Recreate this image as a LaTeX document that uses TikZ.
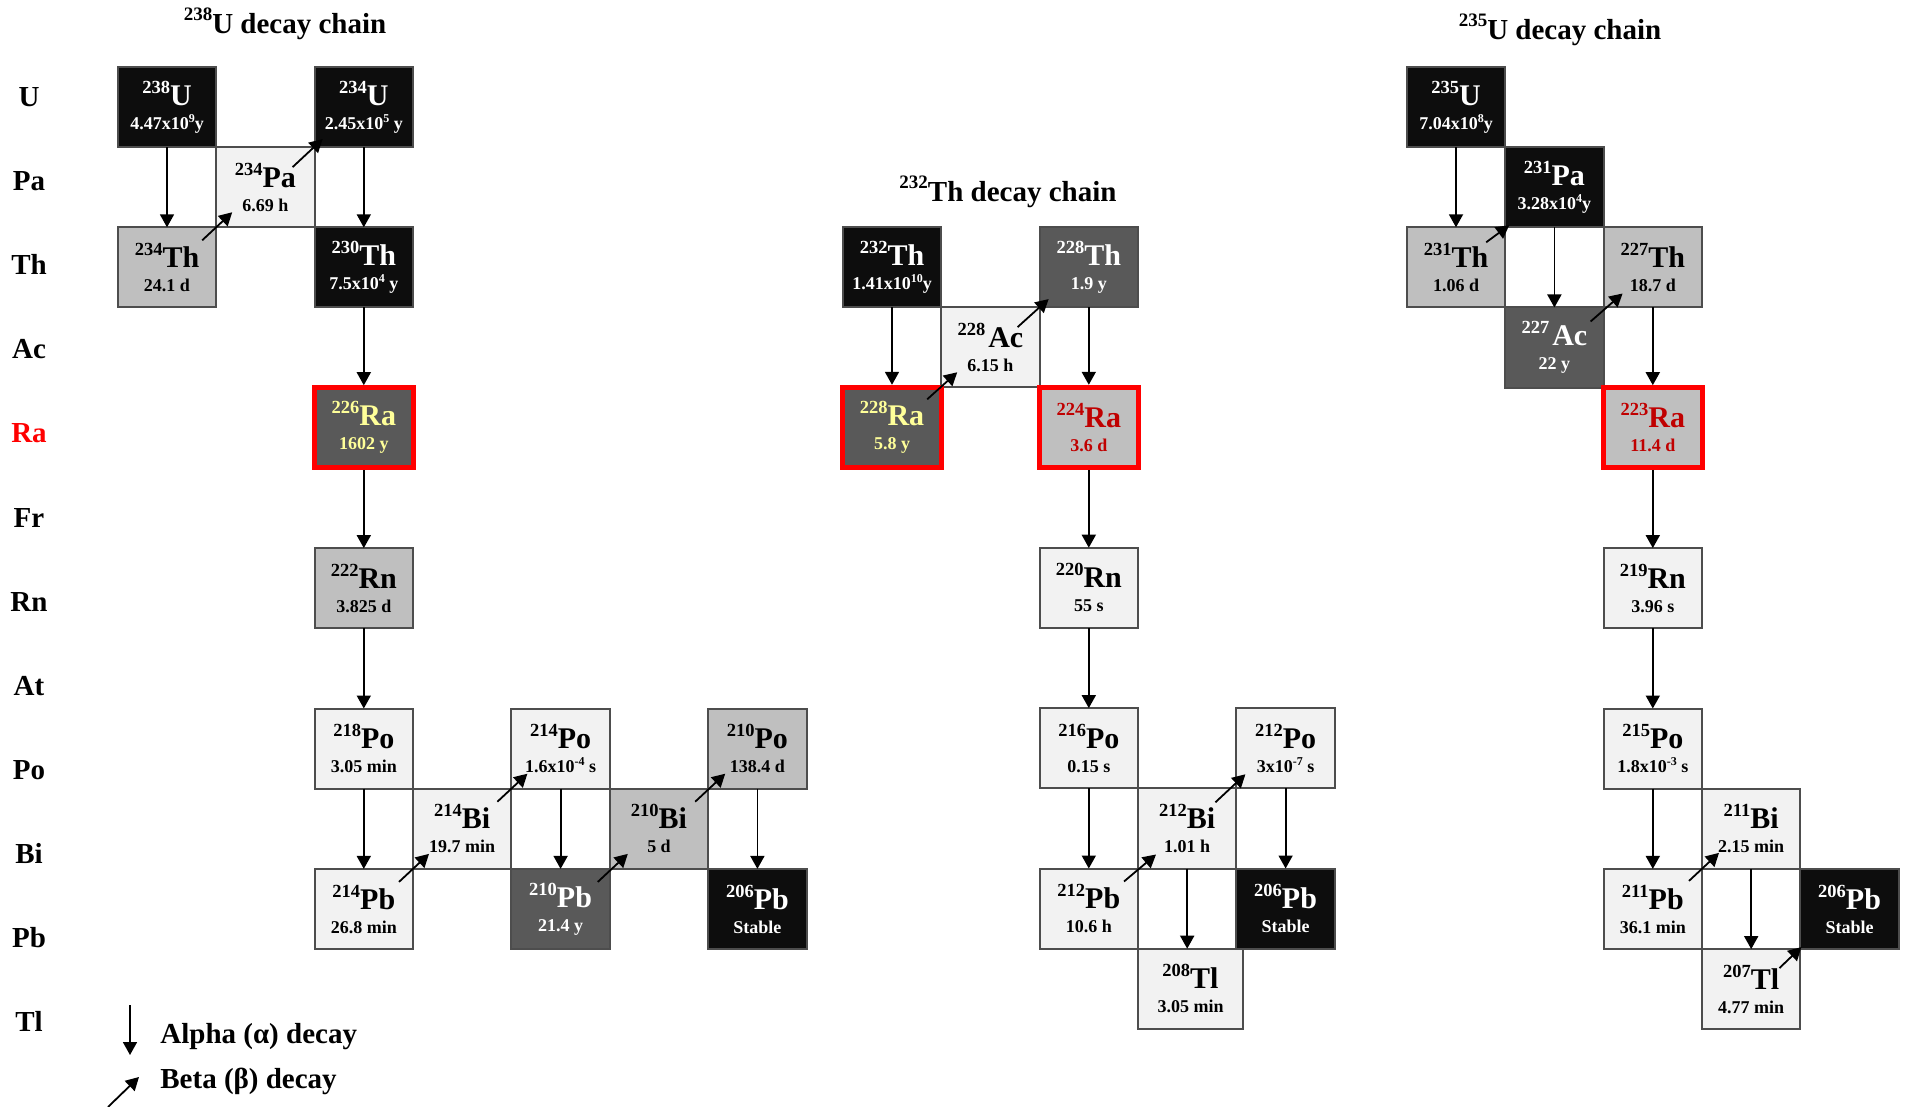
\documentclass[tikz,border=0pt]{standalone}
\usepackage{fontspec}
\setmainfont{Liberation Serif}
\usepackage{tikz}
\usetikzlibrary{arrows.meta, positioning, calc}

\definecolor{nucblack}{HTML}{0D0D0D}
\definecolor{nucdark}{HTML}{595959}
\definecolor{nucmid}{HTML}{BFBFBF}
\definecolor{nuclight}{HTML}{F2F2F2}
\definecolor{edgegray}{HTML}{4D4D4D}
\definecolor{rayellow}{HTML}{FFFF99}
\definecolor{rared}{HTML}{C00000}

% mass number, symbol, half-life
\newcommand{\iso}[3]{\raisebox{6pt}{\fontsize{9.25}{9}\selectfont #1}#2\\{\fontsize{9}{12}\selectfont #3}}
\newcommand{\ex}[1]{\raisebox{3.5pt}{\fontsize{6}{6}\selectfont #1}}
\newcommand{\mass}[1]{\raisebox{6.5pt}{\fontsize{9.5}{9.5}\selectfont #1}}

\begin{document}
\begin{tikzpicture}[
    x=0.5pt, y=-0.5pt,
    nuc/.style={draw=edgegray, line width=1pt, minimum width=49.2pt, minimum height=40.1pt, inner sep=0pt, outer sep=0pt, align=center, font=\fontsize{15}{12}\selectfont\bfseries},
    blackbox/.style={nuc, fill=nucblack, text=white},
    darkbox/.style={nuc, fill=nucdark, text=white},
    midbox/.style={nuc, fill=nucmid},
    lightbox/.style={nuc, fill=nuclight},
    radium/.style={draw=red, line width=2.5pt},
    rowlab/.style={anchor=base, inner sep=0pt, font=\fontsize{14.5}{15}\selectfont\bfseries},
    chaintitle/.style={anchor=base, inner sep=0pt, font=\fontsize{14.5}{15}\selectfont\bfseries},
    legend/.style={anchor=base west, inner sep=0pt, font=\fontsize{14.5}{15}\selectfont\bfseries},
    alphaarr/.style={line width=0.9pt, -{Triangle[length=6.5pt, width=7pt]}},
    betaarr/.style={line width=0.9pt, -{Triangle[length=6.5pt, width=7pt]}}
]
\useasboundingbox (0,0) rectangle (1908,1107);

% Element rows
\foreach \el/\col [count=\i from 0] in {U/black, Pa/black, Th/black, Ac/black, Ra/red, Fr/black, Rn/black, At/black, Po/black, Bi/black, Pb/black, Tl/black}
    \node[rowlab, text=\col] (row\el) at (29, {107+84*\i}) {\el};

% Titles
\node[chaintitle] (title238) at (285,34) {\mass{238}U decay chain};
\node[chaintitle] (title232) at (1008,202) {\mass{232}Th decay chain};
\node[chaintitle] (title235) at (1560,40) {\mass{235}U decay chain};

% 238U chain
\node[blackbox] (u238) at (167,107) {\iso{238}{U}{4.47x10\ex{9}y}};
\node[lightbox, below right=0pt and 0pt of u238] (pa234) {\iso{234}{Pa}{6.69 h}};
\node[midbox, below left=0pt and 0pt of pa234] (th234) {\iso{234}{Th}{24.1 d}};
\node[blackbox, above right=0pt and 0pt of pa234] (u234) {\iso{234}{U}{2.45x10\ex{5} y}};
\node[blackbox, below right=0pt and 0pt of pa234] (th230) {\iso{230}{Th}{7.5x10\ex{4} y}};
\node[darkbox, radium, text=rayellow, below=40.1pt of th230] (ra226) {\iso{226}{Ra}{1602 y}};
\node[midbox, below=40.1pt of ra226] (rn222) {\iso{222}{Rn}{3.825 d}};
\node[lightbox, below=40.1pt of rn222] (po218) {\iso{218}{Po}{3.05 min}};
\node[lightbox, below right=0pt and 0pt of po218] (bi214) {\iso{214}{Bi}{19.7 min}};
\node[lightbox, below left=0pt and 0pt of bi214] (pb214) {\iso{214}{Pb}{26.8 min}};
\node[lightbox, above right=0pt and 0pt of bi214] (po214) {\iso{214}{Po}{1.6x10\ex{-4} s}};
\node[darkbox, below right=0pt and 0pt of bi214] (pb210) {\iso{210}{Pb}{21.4 y}};
\node[midbox, above right=0pt and 0pt of pb210] (bi210) {\iso{210}{Bi}{5 d}};
\node[midbox, above right=0pt and 0pt of bi210] (po210) {\iso{210}{Po}{138.4 d}};
\node[blackbox, below right=0pt and 0pt of bi210] (pb206a) {\iso{206}{Pb}{Stable}};

% 232Th chain
\node[blackbox] (th232) at (892,267) {\iso{232}{Th}{1.41x10\ex{10}y}};
\node[lightbox, below right=0pt and 0pt of th232] (ac228) {\iso{228\,}{Ac}{6.15 h}};
\node[darkbox, radium, text=rayellow, below left=0pt and 0pt of ac228] (ra228) {\iso{228}{Ra}{5.8 y}};
\node[darkbox, above right=0pt and 0pt of ac228] (th228) {\iso{228}{Th}{1.9 y}};
\node[midbox, radium, text=rared, below right=0pt and 0pt of ac228] (ra224) {\iso{224}{Ra}{3.6 d}};
\node[lightbox, below=40.1pt of ra224] (rn220) {\iso{220}{Rn}{55 s}};
\node[lightbox, below=40.1pt of rn220] (po216) {\iso{216}{Po}{0.15 s}};
\node[lightbox, below right=0pt and 0pt of po216] (bi212) {\iso{212}{Bi}{1.01 h}};
\node[lightbox, below left=0pt and 0pt of bi212] (pb212) {\iso{212}{Pb}{10.6 h}};
\node[lightbox, above right=0pt and 0pt of bi212] (po212) {\iso{212}{Po}{3x10\ex{-7} s}};
\node[blackbox, below right=0pt and 0pt of bi212] (pb206b) {\iso{206}{Pb}{Stable}};
\node[lightbox, minimum width=52.5pt, below right=40.1pt and 0pt of bi212.south west] (tl208) {\iso{208}{Tl}{3.05 min}};

% 235U chain
\node[blackbox] (u235) at (1456,107) {\iso{235}{U}{7.04x10\ex{8}y}};
\node[blackbox, below right=0pt and 0pt of u235] (pa231) {\iso{231}{Pa}{3.28x10\ex{4}y}};
\node[midbox, below left=0pt and 0pt of pa231] (th231) {\iso{231}{Th}{1.06 d}};
\node[darkbox, below right=0pt and 0pt of th231] (ac227) {\iso{227\,}{Ac}{22 y}};
\node[midbox, above right=0pt and 0pt of ac227] (th227) {\iso{227}{Th}{18.7 d}};
\node[midbox, radium, text=rared, below right=0pt and 0pt of ac227] (ra223) {\iso{223}{Ra}{11.4 d}};
\node[lightbox, below=40.1pt of ra223] (rn219) {\iso{219}{Rn}{3.96 s}};
\node[lightbox, below=40.1pt of rn219] (po215) {\iso{215}{Po}{1.8x10\ex{-3} s}};
\node[lightbox, below right=0pt and 0pt of po215] (bi211) {\iso{211}{Bi}{2.15 min}};
\node[lightbox, below left=0pt and 0pt of bi211] (pb211) {\iso{211}{Pb}{36.1 min}};
\node[blackbox, below right=0pt and 0pt of bi211] (pb206c) {\iso{206}{Pb}{Stable}};
\node[lightbox, below=40.1pt of bi211] (tl207) {\iso{207}{Tl}{4.77 min}};

% Alpha decays
\draw[alphaarr] (u238) -- (th234);
\draw[alphaarr] (u234) -- (th230);
\draw[alphaarr, shorten >=1.25pt] (th230) -- (ra226);
\draw[alphaarr, shorten <=1.25pt] (ra226) -- (rn222);
\draw[alphaarr] (rn222) -- (po218);
\draw[alphaarr] (po218) -- (pb214);
\draw[alphaarr] (po214) -- (pb210);
\draw[alphaarr] (po210) -- (pb206a);

\draw[alphaarr, shorten >=1.25pt] (th232) -- (ra228);
\draw[alphaarr, shorten >=1.25pt] (th228) -- (ra224);
\draw[alphaarr, shorten <=1.25pt] (ra224) -- (rn220);
\draw[alphaarr] (rn220) -- (po216);
\draw[alphaarr] (po216) -- (pb212);
\draw[alphaarr] (bi212) -- (bi212 |- tl208.north);
\draw[alphaarr] (po212) -- (pb206b);

\draw[alphaarr] (u235) -- (th231);
\draw[alphaarr] (pa231) -- (ac227);
\draw[alphaarr, shorten >=1.25pt] (th227) -- (ra223);
\draw[alphaarr, shorten <=1.25pt] (ra223) -- (rn219);
\draw[alphaarr] (rn219) -- (po215);
\draw[alphaarr] (po215) -- (pb211);
\draw[alphaarr] (bi211) -- (tl207);

% Beta decays
\draw[betaarr] ($(th234.north east)+(-14,13)$) -- ($(pa234.south west)+(16,-15)$);
\draw[betaarr] ($(pa234.north east)+(-22,20)$) -- ($(u234.south west)+(8,-8)$);
\draw[betaarr] ($(pb214.north east)+(-14,13)$) -- ($(bi214.south west)+(16,-15)$);
\draw[betaarr] ($(bi214.north east)+(-14,13)$) -- ($(po214.south west)+(16,-15)$);
\draw[betaarr] ($(pb210.north east)+(-12,13)$) -- ($(bi210.south west)+(18,-15)$);
\draw[betaarr] ($(bi210.north east)+(-13,13)$) -- ($(po210.south west)+(17,-15)$);

\draw[betaarr] ($(ra228.north east)+(-14,12)$) -- ($(ac228.south west)+(16,-15)$);
\draw[betaarr] ($(ac228.north east)+(-22,20)$) -- ($(th228.south west)+(9,-8)$);
\draw[betaarr] ($(pb212.north east)+(-14,13)$) -- ($(bi212.south west)+(18,-14)$);
\draw[betaarr] ($(bi212.north east)+(-21,14)$) -- ($(po212.south west)+(9,-14)$);

\draw[betaarr] ($(th231.north east)+(-19,15)$) -- ($(pa231.south west)+(4,-2)$);
\draw[betaarr] ($(ac227.north east)+(-13,14)$) -- ($(th227.south west)+(19,-14)$);
\draw[betaarr] ($(pb211.north east)+(-13,12)$) -- ($(bi211.south west)+(17,-16)$);
\draw[betaarr] ($(tl207.north east)+(-21,19)$) -- ($(pb206c.south west)+(1,-2)$);

% Legend
\coordinate (alphatop) at (130,1005);
\coordinate (alphabot) at (130,1055);
\draw[alphaarr] (alphatop) -- (alphabot);
\node[legend] (alphatext) at (160,1043) {Alpha (α) decay};
\coordinate (betatail) at (108,1107);
\coordinate (betahead) at (139,1077);
\draw[betaarr] (betatail) -- (betahead);
\node[legend] (betatext) at (160,1088) {Beta (β) decay};

\end{tikzpicture}
\end{document}
